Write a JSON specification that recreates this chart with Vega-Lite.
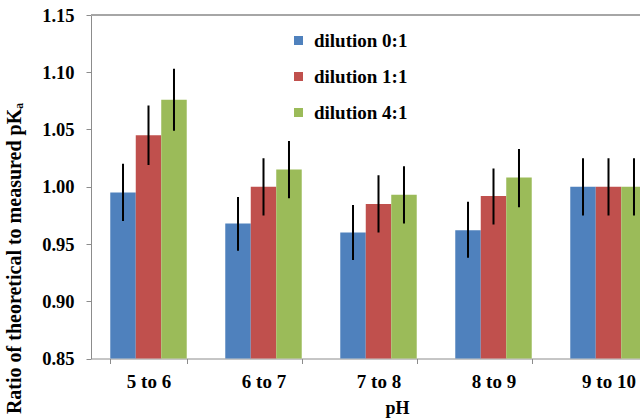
{
  "$schema": "https://vega.github.io/schema/vega-lite/v6.json",
  "width": 549,
  "height": 343.5,
  "autosize": "none",
  "padding": {"left": 91, "top": 15, "right": 0, "bottom": 60.5},
  "data": {
    "values": [
      {"ph": "5 to 6", "dilution": "dilution 0:1", "value": 0.995, "lo": 0.970, "hi": 1.020},
      {"ph": "5 to 6", "dilution": "dilution 1:1", "value": 1.045, "lo": 1.019, "hi": 1.071},
      {"ph": "5 to 6", "dilution": "dilution 4:1", "value": 1.076, "lo": 1.049, "hi": 1.103},
      {"ph": "6 to 7", "dilution": "dilution 0:1", "value": 0.968, "lo": 0.944, "hi": 0.991},
      {"ph": "6 to 7", "dilution": "dilution 1:1", "value": 1.000, "lo": 0.975, "hi": 1.025},
      {"ph": "6 to 7", "dilution": "dilution 4:1", "value": 1.015, "lo": 0.990, "hi": 1.040},
      {"ph": "7 to 8", "dilution": "dilution 0:1", "value": 0.960, "lo": 0.936, "hi": 0.984},
      {"ph": "7 to 8", "dilution": "dilution 1:1", "value": 0.985, "lo": 0.960, "hi": 1.010},
      {"ph": "7 to 8", "dilution": "dilution 4:1", "value": 0.993, "lo": 0.968, "hi": 1.018},
      {"ph": "8 to 9", "dilution": "dilution 0:1", "value": 0.962, "lo": 0.938, "hi": 0.987},
      {"ph": "8 to 9", "dilution": "dilution 1:1", "value": 0.992, "lo": 0.967, "hi": 1.016},
      {"ph": "8 to 9", "dilution": "dilution 4:1", "value": 1.008, "lo": 0.982, "hi": 1.033},
      {"ph": "9 to 10", "dilution": "dilution 0:1", "value": 1.000, "lo": 0.975, "hi": 1.025},
      {"ph": "9 to 10", "dilution": "dilution 1:1", "value": 1.000, "lo": 0.975, "hi": 1.025},
      {"ph": "9 to 10", "dilution": "dilution 4:1", "value": 1.000, "lo": 0.975, "hi": 1.025}
    ]
  },
  "encoding": {
    "x": {
      "field": "ph",
      "type": "nominal",
      "sort": null,
      "scale": {"range": [0, 575], "paddingInner": 0.335, "paddingOuter": 0.1675},
      "axis": {
        "title": "pH",
        "labelAngle": 0,
        "labelFontSize": 19,
        "tickBand": "extent",
        "tickSize": 5,
        "labelBaseline": "alphabetic",
        "labelPadding": 23.5,
        "titleX": 306,
        "titleY": 54.5,
        "titleBaseline": "alphabetic",
        "titleAnchor": null
      }
    },
    "xOffset": {"field": "dilution", "type": "nominal", "scale": {"paddingInner": 0}},
    "y": {
      "type": "quantitative",
      "scale": {"domain": [0.85, 1.15], "nice": false, "zero": false},
      "axis": {
        "title": "Ratio of theoretical to measured pKₐ",
        "values": [0.85, 0.9, 0.95, 1.0, 1.05, 1.1, 1.15],
        "format": ".2f",
        "labelFontSize": 18.5,
        "titleFontSize": 20,
        "tickSize": 5,
        "labelPadding": 12,
        "titleX": -71,
        "titleY": 243,
        "titleAlign": "center",
        "titleBaseline": "alphabetic",
        "titleAnchor": null
      }
    }
  },
  "layer": [
    {
      "mark": {"type": "bar", "clip": true},
      "encoding": {
        "y": {"field": "value", "type": "quantitative"},
        "color": {
          "field": "dilution",
          "type": "nominal",
          "scale": {"range": ["#4F81BD", "#C0504D", "#9BBB59"]},
          "legend": {
            "title": null,
            "orient": "none",
            "legendX": 198,
            "legendY": 16,
            "padding": 0,
            "symbolType": "square",
            "symbolSize": 81,
            "symbolStrokeWidth": 0,
            "labelOffset": 6,
            "rowPadding": 16,
            "labelFont": "Liberation Serif",
            "labelFontWeight": "bold",
            "labelFontSize": 19,
            "labelColor": "black"
          }
        }
      }
    },
    {
      "mark": {"type": "rule", "clip": true, "color": "black", "strokeWidth": 2},
      "encoding": {
        "y": {"field": "lo", "type": "quantitative"},
        "y2": {"field": "hi"}
      }
    },
    {
      "mark": {"type": "rule", "color": "#a6a6a6", "strokeWidth": 1.5},
      "encoding": {
        "x": null,
        "xOffset": null,
        "y": {"datum": 1.15}
      }
    }
  ],
  "config": {
    "view": {"stroke": null},
    "axis": {
      "grid": false,
      "domainColor": "#8c8c8c",
      "tickColor": "#8c8c8c",
      "labelFont": "Liberation Serif",
      "labelFontWeight": "bold",
      "labelFontSize": 18,
      "labelColor": "black",
      "titleFont": "Liberation Serif",
      "titleFontWeight": "bold",
      "titleFontSize": 18,
      "titleColor": "black"
    }
  }
}
